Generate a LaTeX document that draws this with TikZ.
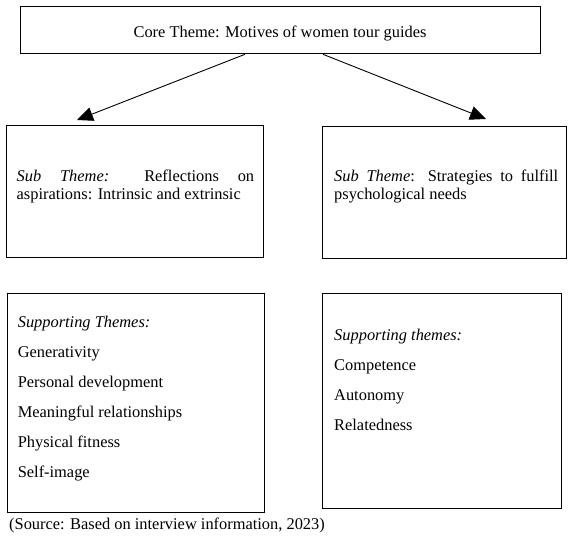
\documentclass[tikz,border=0pt]{standalone}
\usepackage{fontspec}
\setmainfont{Liberation Serif}
\usetikzlibrary{arrows.meta}
\begin{document}
\begin{tikzpicture}[x=1pt,y=-1pt,
  box/.style={draw=black, line width=1.3pt, inner sep=0pt, anchor=north west},
  txt/.style={inner sep=0pt, anchor=base west, font=\fontsize{16.4}{18.5}\selectfont},
  arr/.style={draw=black, line width=0.9pt, -{Triangle[length=16pt,width=14pt]}}]
\useasboundingbox (0,0) rectangle (574,539);
% boxes
\node[box, minimum width=520pt, minimum height=47pt] (core) at (20,6) {};
\node[box, minimum width=257pt, minimum height=132pt] (sub1) at (6,125) {};
\node[box, minimum width=244pt, minimum height=132pt] (sub2) at (322,126) {};
\node[box, minimum width=257pt, minimum height=219pt] (sup1) at (7,293) {};
\node[box, minimum width=239pt, minimum height=215pt] (sup2) at (322,293) {};
% texts
\node[txt, anchor=base] (coret) at (280,37) {Core Theme: Motives of women tour guides};
\node[txt] (s1a) at (16.5,181) {\makebox[237.5pt][s]{\textit{Sub Theme:} Reflections on}};
\node[txt] (s1b) at (16.5,199) {aspirations: Intrinsic and extrinsic};
\node[txt] (s2a) at (334,181) {\makebox[224pt][s]{\textit{Sub Theme}: Strategies to fulfill}};
\node[txt] (s2b) at (334,199) {psychological needs};
\node[txt] (p1) at (17.6,327) {\textit{Supporting Themes:}};
\node[txt] (p2) at (17.6,357) {Generativity};
\node[txt] (p3) at (17.6,387) {Personal development};
\node[txt] (p4) at (17.6,417) {Meaningful relationships};
\node[txt] (p5) at (17.6,447) {Physical fitness};
\node[txt] (p6) at (17.6,477) {Self-image};
\node[txt] (q1) at (334,340) {\textit{Supporting themes:}};
\node[txt] (q2) at (334,370) {Competence};
\node[txt] (q3) at (334,400) {Autonomy};
\node[txt] (q4) at (334,430) {Relatedness};
\node[txt] (src) at (9,529) {(Source: Based on interview information, 2023)};
% arrows
\coordinate (a1s) at ([xshift=225pt]core.south west);
\coordinate (a2s) at ([xshift=303pt]core.south west);
\coordinate (a1e) at (77,120);
\coordinate (a2e) at (486,119);
\draw[arr] (a1s) -- (a1e);
\draw[arr] (a2s) -- (a2e);
\end{tikzpicture}
\end{document}
